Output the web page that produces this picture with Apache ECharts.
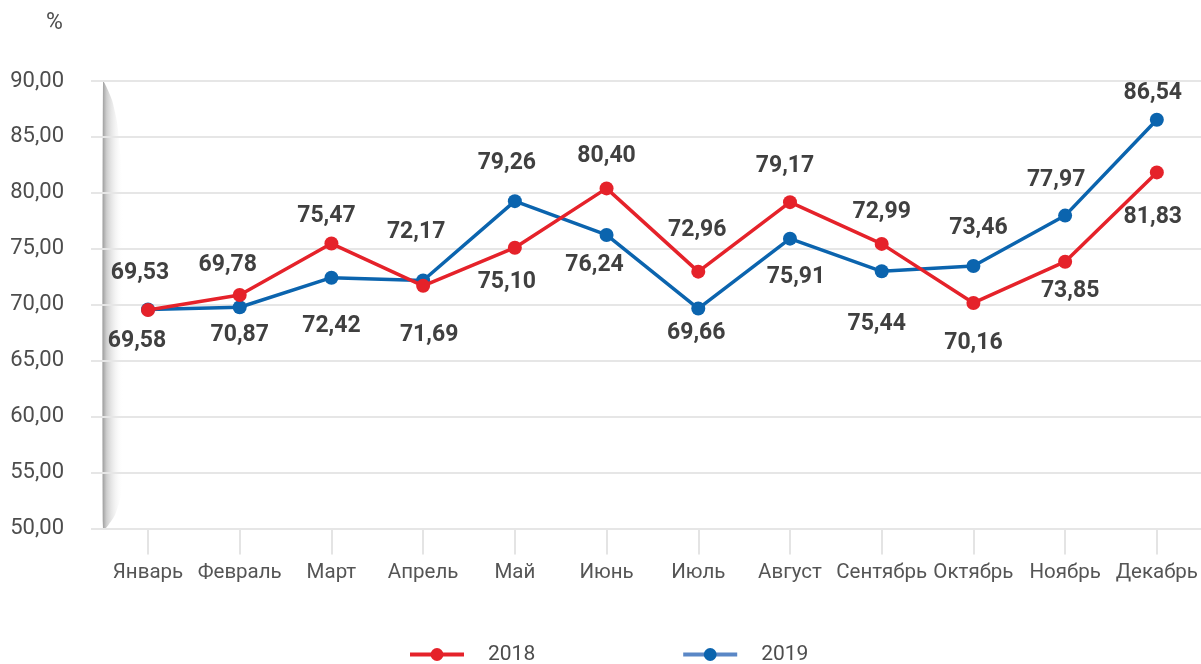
<!DOCTYPE html>
<html>
<head>
<meta charset="utf-8">
<script src="https://cdn.jsdelivr.net/npm/echarts@6/dist/echarts.min.js"></script>
<style>
html,body{margin:0;padding:0;background:#fff;}
#chart{width:1201px;height:664px;}
</style>
</head>
<body>
<div id="chart"></div>
<script>
// ---- data ----
const months = ['Январь','Февраль','Март','Апрель','Май','Июнь','Июль','Август','Сентябрь','Октябрь','Ноябрь','Декабрь'];
const values2018 = [69.53, 70.87, 75.47, 71.69, 75.10, 80.40, 72.96, 79.17, 75.44, 70.16, 73.85, 81.83];
const values2019 = [69.58, 69.78, 72.42, 72.17, 79.26, 76.24, 69.66, 75.91, 72.99, 73.46, 77.97, 86.54];
const yMin = 50, yMax = 90, yStep = 5;
const unitLabel = '%';

// ---- layout: label offsets (dx, dy) from each point ----
const offs2018 = [[-8,-37],[0,40],[-5,-27],[6,49],[-8,35],[0,-32],[-1,-41],[-5,-36],[-5,80],[0,40],[5,30],[-4,45]];
const offs2019 = [[-11,32],[-12,-42],[0,49],[-7,-48],[-8,-38],[-12,30],[-2,25],[6,39],[0,-59],[5,-38],[-9,-35],[-4,-26]];

const RED = '#e5222a', BLUE = '#0b64ae';
const fmt = v => Number(v).toFixed(2).replace('.', ',');

function mkData(vals, offs) {
  return vals.map((v, i) => ({ value: v, label: { offset: offs[i] } }));
}

const labelStyle = {
  show: true, position: 'inside', fontFamily: 'Roboto', fontWeight: 'bold',
  fontSize: 23, color: '#404040', formatter: p => fmt(p.value)
};

const chart = echarts.init(document.getElementById('chart'), null, { renderer: 'canvas' });
chart.setOption({
  animation: false,
  backgroundColor: '#fff',
  textStyle: { fontFamily: 'Roboto' },
  grid: [
    { left: 148, right: 44, top: 81, bottom: 135.5 },
    { left: 91, right: 0, top: 81, bottom: 135.5 }
  ],
  xAxis: [
    {
      gridIndex: 0, type: 'category', data: months, boundaryGap: false,
      axisLine: { show: false },
      axisTick: { show: true, length: 26, lineStyle: { color: '#e4e4e4', width: 2 } },
      axisLabel: { interval: 0, margin: 34, fontSize: 20.5, color: '#555', fontFamily: 'Roboto' },
      splitLine: { show: false }
    },
    { gridIndex: 1, type: 'value', min: 0, max: 1, show: false }
  ],
  yAxis: [
    { gridIndex: 0, type: 'value', min: yMin, max: yMax, interval: yStep, show: false },
    {
      gridIndex: 1, type: 'value', min: yMin, max: yMax, interval: yStep, z: 1,
      axisLine: { show: false }, axisTick: { show: false },
      axisLabel: { margin: 27, fontSize: 22, color: '#4d4d4d', fontFamily: 'Roboto',
                   formatter: v => fmt(v), padding: [0, 0, 6, 0] },
      splitLine: { show: true, lineStyle: { color: '#e6e6e6', width: 2 } }
    }
  ],
  legend: {
    data: [
      { name: '2018', lineStyle: { width: 4 } },
      { name: '2019', lineStyle: { color: '#5a87c6', width: 4 } }
    ],
    left: 403, top: 639, itemWidth: 54, itemHeight: 16, itemGap: 146,
    textStyle: { fontSize: 21, color: '#4d4d4d', fontFamily: 'Roboto', padding: [0, 0, 0, 19] }
  },
  graphic: [
    {
      type: 'polygon', z: -1, silent: true,
      shape: { points: [[103,81],[106,86],[112,100],[117,122],[121,160],[123,200],[123,460],[121,495],[115,515],[106,528],[103,529]], smooth: 0.2 },
      style: {
        fill: new echarts.graphic.LinearGradient(0, 0, 1, 0, [
          { offset: 0, color: 'rgba(150,150,150,0.95)' },
          { offset: 0.2, color: 'rgba(185,185,185,0.7)' },
          { offset: 1, color: 'rgba(255,255,255,0)' }
        ])
      }
    },
    {
      type: 'text', left: 46, top: 12,
      style: { text: unitLabel, fontSize: 23, fontFamily: 'Roboto', fill: '#4d4d4d' }
    }
  ],
  series: [
    {
      name: '2019', type: 'line', xAxisIndex: 0, yAxisIndex: 0, z: 3,
      data: mkData(values2019, offs2019),
      symbol: 'circle', symbolSize: 14,
      lineStyle: { width: 3.5, color: BLUE }, itemStyle: { color: BLUE },
      label: labelStyle
    },
    {
      name: '2018', type: 'line', xAxisIndex: 0, yAxisIndex: 0, z: 4,
      data: mkData(values2018, offs2018),
      symbol: 'circle', symbolSize: 14,
      lineStyle: { width: 3.5, color: RED }, itemStyle: { color: RED },
      label: labelStyle
    }
  ]
});
</script>
</body>
</html>
